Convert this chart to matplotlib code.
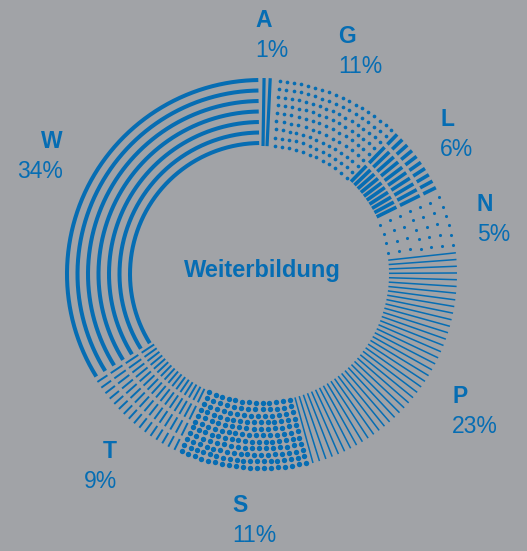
import matplotlib.pyplot as plt
import numpy as np
from matplotlib.collections import LineCollection

# data
labels = ["A", "G", "L", "N", "P", "S", "T", "W"]
shares = [1, 11, 6, 5, 23, 11, 9, 34]
center_title = "Weiterbildung"

# layout (pixel coords) for the labels: x, baseline y of letter, alignment
label_pos = [(255, 27, "left"), (338, 43, "left"), (440, 126, "left"),
             (477, 211, "left"), (452, 403, "left"), (232, 512, "left"),
             (117, 458, "right"), (63, 148, "right")]

bg = "#a1a3a7"
blue = "#066db3"
cx, cy = 261, 274
r_in, r_out = 128, 196

plt.rcParams["font.family"] = ["Liberation Sans", "DejaVu Sans"]

fig = plt.figure(figsize=(5.27, 5.51), dpi=100, facecolor=bg)
ax = fig.add_axes([0, 0, 1, 1])
ax.set_facecolor(bg)
ax.set_xlim(0, 527)
ax.set_ylim(551, 0)
ax.axis("off")


def xy(r, th):
    t = np.radians(th)
    return cx + r * np.sin(t), cy - r * np.cos(t)


def radial(t0, t1, n, bands, lw):
    th = t0 + (np.arange(n) + 0.5) * (t1 - t0) / n
    segs = []
    for t in th:
        for a, b in bands:
            x0, y0 = xy(a, t)
            x1, y1 = xy(b, t)
            segs.append([(x0, y0), (x1, y1)])
    ax.add_collection(LineCollection(segs, colors=blue, linewidths=lw, capstyle="butt"))


def dots(t0, t1, nring, step, size):
    for r in np.linspace(r_in + 1, r_out - 2, nring):
        arc = np.radians(t1 - t0) * r
        n = max(int(arc / step), 1)
        th = t0 + (np.arange(n) + 0.5) * (t1 - t0) / n
        x, y = xy(r, th)
        ax.scatter(x, y, s=size, color=blue, lw=0)


def arcs(t0, t1, nring, lw):
    th = np.linspace(t0, t1, 300)
    for r in np.linspace(r_in + 3, r_out - 2, nring):
        x, y = xy(r, th)
        ax.plot(x, y, color=blue, lw=lw, solid_capstyle="butt")


full = [(r_in, r_out)]
edges = np.concatenate([[0], np.cumsum(shares)]) * 3.6

for i, lab in enumerate(labels):
    t0, t1 = edges[i], edges[i + 1]
    if lab == "A":
        radial(t0, t1, 2, full, 2.3)
    elif lab == "G":
        dots(t0 + 0.8, t1, 9, 7.0, 7)
    elif lab == "L":
        radial(t0, t1, 10, [(129, 151), (155, 177), (181, 195)], 2.6)
    elif lab == "N":
        dots(t0 + 0.5, t1, 7, 9.5, 5)
    elif lab == "P":
        radial(t0, t1, 42, full, 1.1)
    elif lab == "S":
        dots(t0, t1, 11, 6.8, 15)
    elif lab == "T":
        radial(t0, t1, 16, [(128, 143), (147, 162), (166, 180), (184, 196)], 1.4)
    elif lab == "W":
        arcs(t0 + 0.5, t1 - 0.8, 7, 2.9)

for lab, val, (x, y, ha) in zip(labels, shares, label_pos):
    ax.text(x, y, lab, color=blue, fontsize=16.5, fontweight="bold", ha=ha, va="baseline")
    ax.text(x, y + 30, f"{val}%", color=blue, fontsize=16.5, ha=ha, va="baseline")

ax.text(262, 277, center_title, color=blue, fontsize=17, fontweight="bold",
        ha="center", va="baseline")

fig.savefig("out.png", dpi=100, facecolor=bg)
